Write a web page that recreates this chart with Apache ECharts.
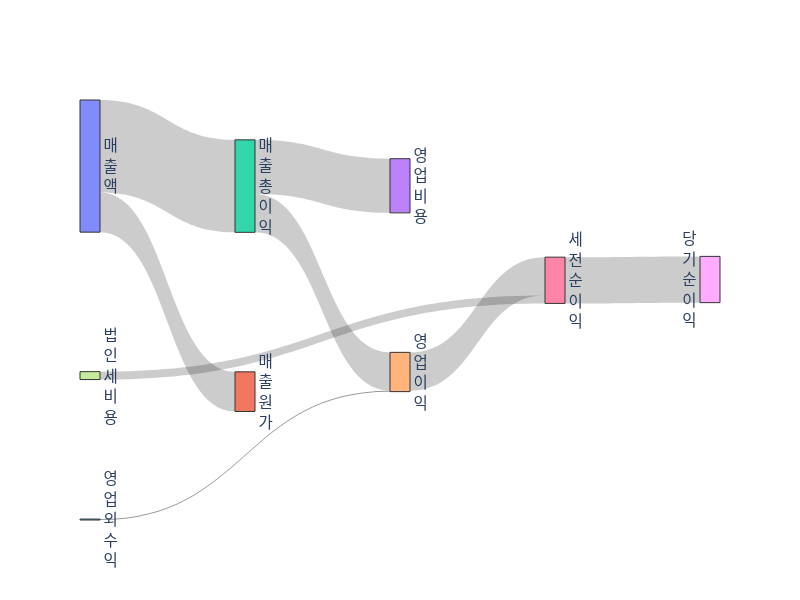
<!DOCTYPE html>
<html><head><meta charset="utf-8">
<script src="https://cdn.jsdelivr.net/npm/echarts@6/dist/echarts.min.js"></script>
<style>html,body{margin:0;padding:0;background:#fff}#c{width:800px;height:600px}</style>
</head><body><div id="c"></div>
<script>
const nodeNames = ['매출액','매출원가','매출총이익','영업비용','영업이익','영업외수익','세전순이익','법인세비용','당기순이익'];
const linkSources = ['매출액','매출액','매출총이익','매출총이익','영업외수익','영업이익','법인세비용','세전순이익'];
const linkTargets = ['매출총이익','매출원가','영업비용','영업이익','영업이익','세전순이익','세전순이익','당기순이익'];
const linkValues = [70,30,41,29,0.7,29,6,35];
const nodeColors = ['rgba(99,110,250,0.8)','rgba(239,85,59,0.8)','rgba(0,204,150,0.8)','rgba(171,99,250,0.8)','rgba(255,161,90,0.8)','rgba(25,211,243,0.8)','rgba(255,102,146,0.8)','rgba(182,232,128,0.8)','rgba(255,151,255,0.8)'];
const lastColumn = ['당기순이익'];

const chart = echarts.init(document.getElementById('c'));
const nodes = nodeNames.map((n,i)=>({
  name:n,
  itemStyle:{color:nodeColors[i]},
  label: lastColumn.includes(n) ? {position:'left'} : {position:'right'}
}));
const links = linkSources.map((s,i)=>({source:s,target:linkTargets[i],value:linkValues[i],
  lineStyle: linkValues[i] < 1 ? {opacity:0.4} : {}}));
chart.setOption({
  animation:false,
  series:[{
    type:'sankey',
    left:80,right:80,top:100,bottom:80,
    nodeWidth:20,
    nodeGap:139.5,
    nodeAlign:'left',
    layoutIterations:48,
    draggable:false,
    emphasis:{disabled:true},
    itemStyle:{borderColor:'#333',borderWidth:1},
    lineStyle:{color:'#000',opacity:0.2,curveness:0.5},
    label:{
      distance:3,
      color:'#2a3f5f',
      fontFamily:'"Noto Sans CJK KR", "Open Sans", sans-serif',
      fontSize:15.5,
      lineHeight:20.5,
      formatter:p=>p.name.split('').join('\n')
    },
    data:nodes,
    links:links
  }]
});
</script></body></html>
